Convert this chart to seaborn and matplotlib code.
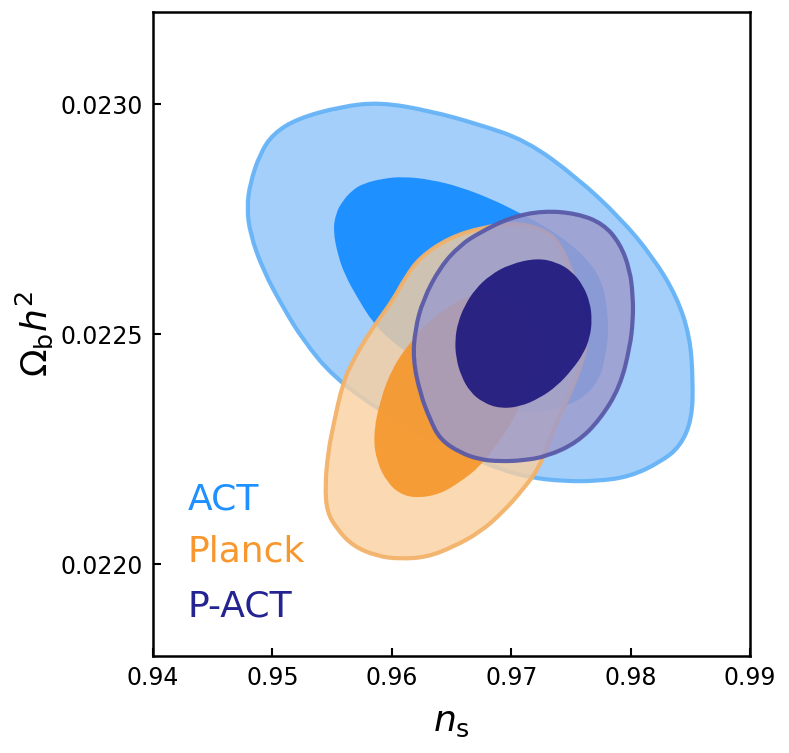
import numpy as np
import pandas as pd
import matplotlib
matplotlib.use("Agg")
import matplotlib.pyplot as plt
from matplotlib.path import Path
from matplotlib.patches import PathPatch
import seaborn as sns

# ---- contour boundaries (n_s, Omega_b h^2) ----
act95_ns = [0.95901, 0.96320, 0.96714, 0.97132, 0.97551, 0.97911, 0.98188, 0.98389,
            0.98497, 0.98523, 0.98514, 0.98414, 0.98246, 0.97995, 0.97719, 0.97434,
            0.97157, 0.96906, 0.96630, 0.96345, 0.95926, 0.95508, 0.95256, 0.95089,
            0.94921, 0.94812, 0.94787, 0.94812, 0.94896, 0.95005, 0.95206, 0.95566]
act95_ob = [0.023004, 0.022985, 0.022957, 0.022920, 0.022840, 0.022753, 0.022667, 0.022580,
            0.022494, 0.022400, 0.022314, 0.022255, 0.022221, 0.022190, 0.022180, 0.022180,
            0.022188, 0.022206, 0.022236, 0.022271, 0.022329, 0.022407, 0.022487, 0.022558,
            0.022639, 0.022719, 0.022775, 0.022827, 0.022892, 0.022935, 0.022968, 0.022994]

act68_ns = [0.95508, 0.95533, 0.95591, 0.95667, 0.95759, 0.95926, 0.96094, 0.96320,
            0.96571, 0.96848, 0.97049, 0.97283, 0.97492, 0.97660, 0.97752, 0.97794,
            0.97811, 0.97811, 0.97777, 0.97744, 0.97643, 0.97492, 0.97308, 0.97116,
            0.96906, 0.96655, 0.96429, 0.96152, 0.95985, 0.95843, 0.95709, 0.95608, 0.95549]
act68_ob = [0.022725, 0.022764, 0.022790, 0.022812, 0.022827, 0.022838, 0.022842, 0.022836,
            0.022820, 0.022792, 0.022766, 0.022734, 0.022697, 0.022656, 0.022617, 0.022574,
            0.022530, 0.022487, 0.022439, 0.022405, 0.022370, 0.022346, 0.022333, 0.022329,
            0.022340, 0.022364, 0.022400, 0.022455, 0.022487, 0.022524, 0.022580, 0.022628, 0.022671]

planck95_ns = [0.97049, 0.97266, 0.97384, 0.97492, 0.97576, 0.97618, 0.97635, 0.97601,
               0.97509, 0.97350, 0.97241, 0.97099, 0.96931, 0.96739, 0.96513, 0.96295,
               0.96069, 0.95876, 0.95675, 0.95541, 0.95457, 0.95441, 0.95466, 0.95508,
               0.95591, 0.95692, 0.95792, 0.95901, 0.96010, 0.96111, 0.96236, 0.96487, 0.96764]
planck95_ob = [0.022742, 0.022727, 0.022704, 0.022649, 0.022580, 0.022524, 0.022487, 0.022444,
               0.022379, 0.022292, 0.022212, 0.022162, 0.022113, 0.022069, 0.022037, 0.022015,
               0.022011, 0.022017, 0.022039, 0.022076, 0.022113, 0.022169, 0.022242, 0.022299,
               0.022396, 0.022450, 0.022494, 0.022535, 0.022574, 0.022621, 0.022667, 0.022710, 0.022732]

planck68_ns = [0.96797, 0.96990, 0.97116, 0.97174, 0.97183, 0.97141, 0.97032, 0.96881,
               0.96739, 0.96571, 0.96404, 0.96211, 0.96069, 0.95960, 0.95876, 0.95843,
               0.95901, 0.96010, 0.96152, 0.96295, 0.96429, 0.96613]
planck68_ob = [0.022595, 0.022578, 0.022541, 0.022498, 0.022455, 0.022390, 0.022318, 0.022260,
               0.022212, 0.022178, 0.022152, 0.022143, 0.022152, 0.022178, 0.022221, 0.022277,
               0.022357, 0.022429, 0.022481, 0.022524, 0.022552, 0.022580]

pact95_ns = [0.97266, 0.97551, 0.97769, 0.97911, 0.97995, 0.98020, 0.98020, 0.97995,
             0.97911, 0.97744, 0.97551, 0.97300, 0.97099, 0.96906, 0.96739, 0.96571,
             0.96404, 0.96320, 0.96236, 0.96178, 0.96194, 0.96261, 0.96404, 0.96571,
             0.96739, 0.96990]
pact95_ob = [0.022768, 0.022762, 0.022740, 0.022697, 0.022639, 0.022580, 0.022530, 0.022472,
             0.022385, 0.022314, 0.022264, 0.022234, 0.022225, 0.022223, 0.022227, 0.022242,
             0.022271, 0.022314, 0.022372, 0.022444, 0.022509, 0.022574, 0.022645, 0.022693,
             0.022721, 0.022753]

pact68_ns = [0.97216, 0.97384, 0.97509, 0.97601, 0.97660, 0.97677, 0.97660, 0.97610,
             0.97509, 0.97384, 0.97241, 0.97074, 0.96906, 0.96764, 0.96655, 0.96580,
             0.96538, 0.96529, 0.96554, 0.96613, 0.96697, 0.96822, 0.96990]
pact68_ob = [0.022665, 0.022656, 0.022636, 0.022606, 0.022569, 0.022530, 0.022494, 0.022459,
             0.022422, 0.022387, 0.022361, 0.022342, 0.022338, 0.022351, 0.022374, 0.022409,
             0.022448, 0.022487, 0.022526, 0.022563, 0.022597, 0.022628, 0.022652]

labels = ["ACT", "Planck", "P-ACT"]
x_ticks = [0.94, 0.95, 0.96, 0.97, 0.98, 0.99]
x_tick_labels = ["0.94", "0.95", "0.96", "0.97", "0.98", "0.99"]
y_ticks = [0.0220, 0.0225, 0.0230]
y_tick_labels = ["0.0220", "0.0225", "0.0230"]

# ---- styling ----
sns.set_theme(style="white")
plt.rcParams["font.family"] = ["DejaVu Sans"]
plt.rcParams["mathtext.fontset"] = "dejavusans"

fig = plt.figure(figsize=(7.89, 7.53), dpi=100)
ax = fig.add_axes([153 / 789, 97 / 753, 597 / 789, 644 / 753])


def smooth_closed_path(xs, ys):
    """Closed quadratic B-spline through the traced boundary (rendered by matplotlib)."""
    df = pd.DataFrame({"ns": xs, "ob": ys})
    P = df[["ns", "ob"]].to_numpy()
    M = (P + np.roll(P, -1, axis=0)) / 2.0
    verts = [M[-1]]
    codes = [Path.MOVETO]
    for i in range(len(P)):
        verts += [P[i], M[i]]
        codes += [Path.CURVE3, Path.CURVE3]
    return Path(np.array(verts), codes)


layers = [
    # (ns, ob, face colour, alpha, edge colour or None, zorder)
    (act95_ns, act95_ob, "#a3cffa", 1.0, "#66b3f7", 1),
    (act68_ns, act68_ob, "#1e90ff", 1.0, None, 2),
    (planck95_ns, planck95_ob, "#fbd09f", 0.8, "#f3b26a", 4),
    (planck68_ns, planck68_ob, "#f5962a", 0.9, None, 5),
    (pact95_ns, pact95_ob, "#9e9ccc", 0.84, "#5a5aa8", 7),
    (pact68_ns, pact68_ob, "#1c167d", 0.9, None, 8),
]

for xs, ys, fc, a, ec, z in layers:
    path = smooth_closed_path(xs, ys)
    ax.add_patch(PathPatch(path, facecolor=fc, alpha=a, lw=0, zorder=z,
                           transform=ax.transData))
    if ec is not None:
        ax.add_patch(PathPatch(path, facecolor="none", edgecolor=ec, lw=3.0,
                               alpha=0.95, joinstyle="round", zorder=z + 0.5,
                               transform=ax.transData))

ax.set_xlim(0.94, 0.99)
ax.set_ylim(0.0218, 0.0232)
ax.set_xticks(x_ticks)
ax.set_xticklabels(x_tick_labels)
ax.set_yticks(y_ticks)
ax.set_yticklabels(y_tick_labels)
ax.tick_params(axis="both", direction="in", length=6, width=1.5, labelsize=17,
               pad=7, colors="black", bottom=True, left=True, top=False, right=False)
for sp in ax.spines.values():
    sp.set_linewidth(1.8)
    sp.set_color("black")

ax.set_xlabel(r"$n_{\rm s}$", fontsize=26, labelpad=11, color="black")
ax.set_ylabel(r"$\Omega_{\rm b} h^2$", fontsize=26, labelpad=4, color="black")

text_colors = ["#1e90ff", "#f7972e", "#232391"]
text_y = [0.228, 0.146, 0.0606]
for lab, c, ty in zip(labels, text_colors, text_y):
    ax.text(0.0586, ty, lab, transform=ax.transAxes, color=c, fontsize=26,
            ha="left", va="baseline", zorder=10)

fig.savefig("out.png", dpi=100, facecolor="white")
